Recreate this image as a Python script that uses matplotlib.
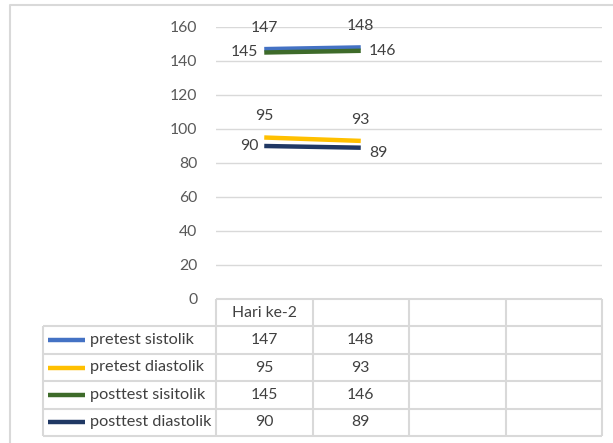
import matplotlib.pyplot as plt

# data
categories = ["Hari ke-2", "", "", ""]
series_names = ["pretest sistolik", "pretest diastolik", "posttest sisitolik", "posttest diastolik"]
pretest_sistolik = [147, 148]
pretest_diastolik = [95, 93]
posttest_sisitolik = [145, 146]
posttest_diastolik = [90, 89]
series_values = [pretest_sistolik, pretest_diastolik, posttest_sisitolik, posttest_diastolik]
y_ticks = [0, 20, 40, 60, 80, 100, 120, 140, 160]

# style
colors = ["#4472C4", "#FFC000", "#3E6B2A", "#203864"]
# label placement per series, per point: (dx, dy, ha, va) in pixels
label_pos = [
    [(0, 14, "center", "bottom"), (0, 14, "center", "bottom")],
    [(0, 14, "center", "bottom"), (0, 14, "center", "bottom")],
    [(-6, 0, "right", "center"), (8, 0, "left", "center")],
    [(-6, 0, "right", "center"), (8, -5, "left", "center")],
]
W, H = 613, 443
grid_col = "#D9D9D9"
fs = 11.3
plt.rcParams['font.family'] = ['Lato', 'DejaVu Sans']

fig = plt.figure(figsize=(W / 100, H / 100), dpi=100)

# background axes in pixel units for the border and data table
bg = fig.add_axes([0, 0, 1, 1])
bg.set_xlim(0, W)
bg.set_ylim(H, 0)
bg.axis("off")

# chart border
bg.plot([10, 10, W + 5], [H + 5, 5, 5], color=grid_col, lw=1.5, solid_capstyle="butt")

# plot area
x_left, x_right = 216, 602
y_top, y_bot = 27, 299
ax = fig.add_axes([x_left / W, 1 - y_bot / H, (x_right - x_left) / W, (y_bot - y_top) / H])
ax.set_xlim(-0.5, len(categories) - 0.5)
ax.set_ylim(0, 160)
ax.set_yticks(y_ticks)
ax.set_xticks([])
for s in ax.spines.values():
    s.set_visible(False)
ax.yaxis.grid(True, color=grid_col, lw=1)
ax.set_axisbelow(True)
ax.tick_params(axis="y", length=0, pad=13.5, labelsize=fs, labelcolor="#595959")
ax.patch.set_alpha(0)

for vals, col, lp in zip(series_values, colors, label_pos):
    xs = list(range(len(vals)))
    ax.plot(xs, vals, color=col, lw=3.2, solid_capstyle="butt")
    for x, v, (dx, dy, ha, va) in zip(xs, vals, lp):
        ax.annotate(str(v), (x, v), xytext=(dx, dy), textcoords="offset pixels",
                    ha=ha, va=va, fontsize=fs, color="#404040", annotation_clip=False)

# data table
col_w = (x_right - x_left) / len(categories)
row_edges = [299, 326.4, 353.8, 381.2, 408.6, 436]
tab_left = 43
line_kw = dict(color=grid_col, lw=1.5, solid_capstyle="butt")

# header row borders (value columns only)
bg.plot([x_left, x_right], [row_edges[0], row_edges[0]], **line_kw)
for i in range(len(categories) + 1):
    x = x_left + i * col_w
    bg.plot([x, x], [row_edges[0], row_edges[-1]], **line_kw)
for y in row_edges[1:]:
    bg.plot([tab_left, x_right], [y, y], **line_kw)
bg.plot([tab_left, tab_left], [row_edges[1], row_edges[-1]], **line_kw)

for i, c in enumerate(categories):
    bg.text(x_left + (i + 0.5) * col_w, (row_edges[0] + row_edges[1]) / 2, c,
            ha="center", va="center", fontsize=fs, color="#404040")

for r, (name, vals, col) in enumerate(zip(series_names, series_values, colors)):
    yc = (row_edges[r + 1] + row_edges[r + 2]) / 2
    bg.plot([48, 85], [yc, yc], color=col, lw=3.2, solid_capstyle="butt")
    bg.text(90, yc, name, ha="left", va="center", fontsize=fs + 0.4, color="#404040")
    for i, v in enumerate(vals):
        bg.text(x_left + (i + 0.5) * col_w, yc, str(v), ha="center", va="center",
                fontsize=fs, color="#404040")

fig.savefig("out.png", dpi=100)
